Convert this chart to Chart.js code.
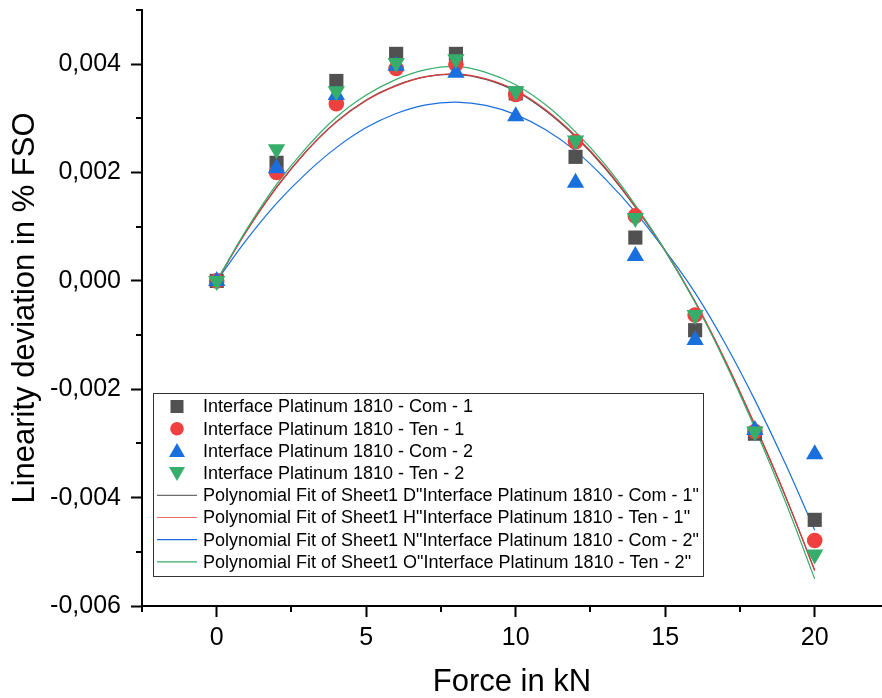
<!DOCTYPE html>
<html>
<head>
<meta charset="utf-8">
<title>Linearity deviation</title>
<script src="https://cdn.jsdelivr.net/npm/chart.js@4.4.1/dist/chart.umd.min.js"></script>
<style>
  html, body { margin: 0; padding: 0; background: #fff; }
  #wrap { width: 882px; height: 698px; position: relative; }
</style>
</head>
<body>
<div id="wrap"><canvas id="chart"></canvas></div>
<script>
// measured values (force in kN, deviation in % FSO)
const forces = [0, 2, 4, 6, 8, 10, 12, 14, 16, 18, 20];
const com1 = [0, 0.00218, 0.00369, 0.00419, 0.00419, 0.00346, 0.00229, 0.00080, -0.00091, -0.00282, -0.00441];
const ten1 = [0, 0.00200, 0.00327, 0.00392, 0.00400, 0.00344, 0.00257, 0.00120, -0.00063, -0.00278, -0.00479];
const com2 = [0, 0.00208, 0.00343, 0.00397, 0.00384, 0.00304, 0.00181, 0.00046, -0.00109, -0.00275, -0.00320];
const ten2 = [0, 0.00243, 0.00350, 0.00402, 0.00409, 0.00350, 0.00259, 0.00116, -0.00063, -0.00278, -0.00505];

// fit curves at every kN
const fitForces = [0, 1, 2, 3, 4, 5, 6, 7, 8, 9, 10, 11, 12, 13, 14, 15, 16, 17, 18, 19, 20];
const fitCom1 = [0, 0.00093, 0.00173, 0.00240, 0.00294, 0.00334, 0.00361, 0.00377, 0.00381, 0.00372, 0.00350, 0.00314, 0.00266, 0.00207, 0.00136, 0.00055, -0.00039, -0.00147, -0.00267, -0.00395, -0.00534];
const fitTen1 = [0, 0.00092, 0.00172, 0.00239, 0.00293, 0.00333, 0.00360, 0.00377, 0.00382, 0.00373, 0.00352, 0.00316, 0.00268, 0.00209, 0.00137, 0.00056, -0.00038, -0.00146, -0.00266, -0.00394, -0.00535];
const fitCom2 = [0, 0.00076, 0.00143, 0.00199, 0.00246, 0.00283, 0.00309, 0.00325, 0.00330, 0.00324, 0.00307, 0.00279, 0.00240, 0.00188, 0.00127, 0.00056, -0.00022, -0.00115, -0.00220, -0.00335, -0.00460];
const fitTen2 = [0, 0.00095, 0.00178, 0.00246, 0.00302, 0.00343, 0.00372, 0.00390, 0.00396, 0.00385, 0.00362, 0.00325, 0.00275, 0.00214, 0.00140, 0.00056, -0.00040, -0.00150, -0.00272, -0.00405, -0.00550];

const xTicks = [0, 5, 10, 15, 20];
const xMinorTicks = [-2.5, 2.5, 7.5, 12.5, 17.5];
const yTicks = [-0.006, -0.004, -0.002, 0, 0.002, 0.004];
const yMinorTicks = [-0.005, -0.003, -0.001, 0.001, 0.003, 0.005];

const seriesLabels = [
    'Interface Platinum 1810 - Com - 1',
    'Interface Platinum 1810 - Ten - 1',
    'Interface Platinum 1810 - Com - 2',
    'Interface Platinum 1810 - Ten - 2',
    'Polynomial Fit of Sheet1 D"Interface Platinum 1810 - Com - 1"',
    'Polynomial Fit of Sheet1 H"Interface Platinum 1810 - Ten - 1"',
    'Polynomial Fit of Sheet1 N"Interface Platinum 1810 - Com - 2"',
    'Polynomial Fit of Sheet1 O"Interface Platinum 1810 - Ten - 2"'
];

const FONT = "'Liberation Sans', Arial, Helvetica, sans-serif";
const GRAY = '#515151';
const RED = '#ef4040';
const BLUE = '#1a6fdf';
const GREEN = '#37ad6b';

function toPoints(xs, ys) {
    return xs.map((x, i) => ({ x: x, y: ys[i] }));
}

function markerSet(label, ys, color, style, radius, rotation, order) {
    return {
        label: label,
        data: toPoints(forces, ys),
        showLine: false,
        pointStyle: style,
        pointRadius: radius,
        pointRotation: rotation,
        pointBackgroundColor: color,
        pointBorderWidth: 0,
        order: order
    };
}

function fitSet(label, ys, color, order) {
    return {
        label: label,
        data: toPoints(fitForces, ys),
        showLine: true,
        borderColor: color,
        borderWidth: 1.2,
        pointRadius: 0,
        tension: 0.4,
        order: order
    };
}

const legendItems = [
    { kind: 'rect', color: GRAY },
    { kind: 'circle', color: RED },
    { kind: 'up', color: BLUE },
    { kind: 'down', color: GREEN },
    { kind: 'line', color: '#6b6b6b' },
    { kind: 'line', color: '#f06a6a' },
    { kind: 'line', color: BLUE },
    { kind: 'line', color: GREEN }
];

function drawSymbol(ctx, item, x, y) {
    ctx.save();
    ctx.fillStyle = item.color;
    ctx.strokeStyle = item.color;
    ctx.beginPath();
    if (item.kind === 'rect') {
        ctx.rect(x - 6.5, y - 6.5, 13, 13);
        ctx.fill();
    } else if (item.kind === 'circle') {
        ctx.arc(x, y, 6.8, 0, Math.PI * 2);
        ctx.fill();
    } else if (item.kind === 'up') {
        ctx.moveTo(x, y - 8);
        ctx.lineTo(x + 8, y + 6);
        ctx.lineTo(x - 8, y + 6);
        ctx.closePath();
        ctx.fill();
    } else if (item.kind === 'down') {
        ctx.moveTo(x, y + 8);
        ctx.lineTo(x + 8, y - 6);
        ctx.lineTo(x - 8, y - 6);
        ctx.closePath();
        ctx.fill();
    } else {
        ctx.lineWidth = 1.2;
        ctx.moveTo(x - 20, y);
        ctx.lineTo(x + 20, y);
        ctx.stroke();
    }
    ctx.restore();
}

// legend box drawn inside the plot, like the Origin export
const boxLegend = {
    id: 'boxLegend',
    afterDraw(chart) {
        const ctx = chart.ctx;
        const left = 153.5, top = 393.5, w = 550, h = 183;
        ctx.save();
        ctx.fillStyle = '#fff';
        ctx.fillRect(left, top, w, h);
        ctx.strokeStyle = '#333';
        ctx.lineWidth = 1;
        ctx.strokeRect(left, top, w, h);
        ctx.font = '18px ' + FONT;
        ctx.fillStyle = '#000';
        ctx.textBaseline = 'middle';
        ctx.textAlign = 'left';
        legendItems.forEach((item, i) => {
            const y = 406.5 + i * 22.2;
            drawSymbol(ctx, item, 177, y);
            ctx.fillText(seriesLabels[i], 203, y + 1);
        });
        ctx.restore();
    }
};

// short minor ticks between the labelled ones
const minorTicks = {
    id: 'minorTicks',
    afterDraw(chart) {
        const ctx = chart.ctx;
        const xs = chart.scales.x;
        const ys = chart.scales.y;
        const area = chart.chartArea;
        ctx.save();
        ctx.strokeStyle = '#000';
        ctx.lineWidth = 2;
        ctx.beginPath();
        xMinorTicks.forEach(v => {
            const px = Math.round(xs.getPixelForValue(v));
            ctx.moveTo(px, area.bottom);
            ctx.lineTo(px, area.bottom + 6);
        });
        yMinorTicks.forEach(v => {
            const py = Math.round(ys.getPixelForValue(v));
            ctx.moveTo(area.left, py);
            ctx.lineTo(area.left - 6, py);
        });
        ctx.stroke();
        ctx.restore();
    }
};

new Chart(document.getElementById('chart'), {
    type: 'scatter',
    data: {
        datasets: [
            markerSet(seriesLabels[0], com1, GRAY, 'rect', 10, 0, 4),
            markerSet(seriesLabels[1], ten1, RED, 'circle', 7.8, 0, 3),
            markerSet(seriesLabels[2], com2, BLUE, 'triangle', 10, 0, 2),
            markerSet(seriesLabels[3], ten2, GREEN, 'triangle', 10, 180, 1),
            fitSet(seriesLabels[4], fitCom1, GRAY, 8),
            fitSet(seriesLabels[5], fitTen1, '#dc3b3b', 6),
            fitSet(seriesLabels[6], fitCom2, BLUE, 7),
            fitSet(seriesLabels[7], fitTen2, GREEN, 5)
        ]
    },
    options: {
        responsive: true,
        maintainAspectRatio: false,
        animation: false,
        layout: { autoPadding: false, padding: { top: 10, right: 0, bottom: 0, left: 0 } },
        plugins: {
            legend: { display: false },
            tooltip: { enabled: false }
        },
        scales: {
            x: {
                type: 'linear',
                min: -2.5,
                max: 22.25,
                afterFit(scale) {
                    scale.height = 92;
                    scale.paddingLeft = 0;
                    scale.paddingRight = 0;
                },
                afterBuildTicks(scale) { scale.ticks = xTicks.map(v => ({ value: v })); },
                grid: { display: true, drawOnChartArea: false, drawTicks: true, tickLength: 11, tickWidth: 2, color: '#000' },
                border: { display: true, color: '#000', width: 2 },
                ticks: {
                    autoSkip: false,
                    maxRotation: 0,
                    padding: 6,
                    color: '#000',
                    font: { family: FONT, size: 25 },
                    callback: v => String(v)
                },
                title: {
                    display: true,
                    text: 'Force in kN',
                    color: '#000',
                    font: { family: FONT, size: 31, lineHeight: 1 },
                    padding: { top: 0, bottom: 0 }
                }
            },
            y: {
                type: 'linear',
                min: -0.006,
                max: 0.005,
                afterFit(scale) {
                    scale.width = 142;
                    scale.paddingTop = 0;
                    scale.paddingBottom = 0;
                },
                afterBuildTicks(scale) { scale.ticks = yTicks.map(v => ({ value: v })); },
                grid: { display: true, drawOnChartArea: false, drawTicks: true, tickLength: 11, tickWidth: 2, color: '#000' },
                border: { display: true, color: '#000', width: 2 },
                ticks: {
                    autoSkip: false,
                    padding: 10,
                    color: '#000',
                    font: { family: FONT, size: 25 },
                    callback: v => v.toFixed(3).replace('.', ',')
                },
                title: {
                    display: true,
                    text: 'Linearity deviation in % FSO',
                    color: '#000',
                    font: { family: FONT, size: 31, lineHeight: 1 },
                    padding: { top: 10, bottom: 0 }
                }
            }
        }
    },
    plugins: [minorTicks, boxLegend]
});
</script>
</body>
</html>
